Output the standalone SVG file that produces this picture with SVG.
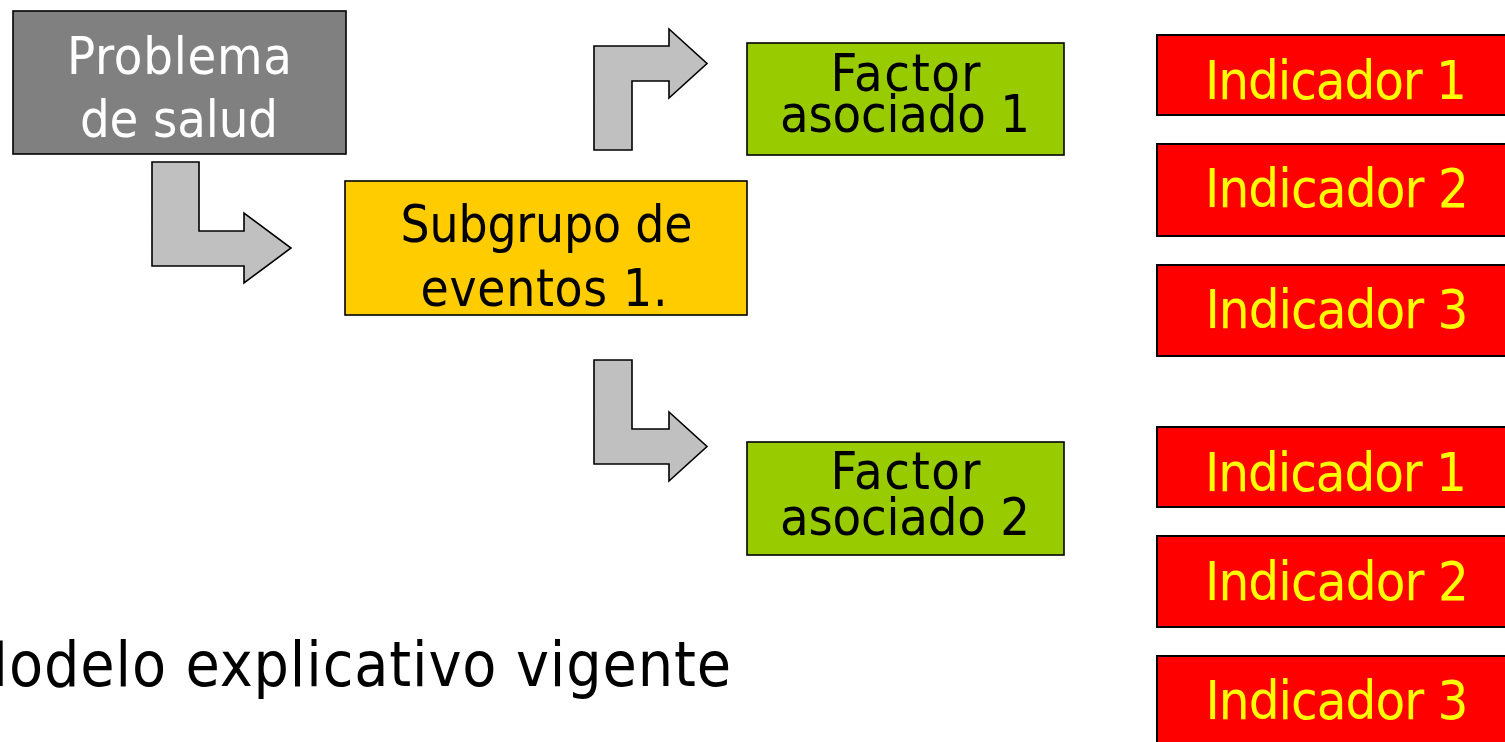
<svg xmlns="http://www.w3.org/2000/svg" width="1505" height="742" viewBox="0 0 1505 742">
<style>
.t{font-family:"DejaVu Sans Condensed","DejaVu Sans",sans-serif;font-stretch:condensed;text-anchor:middle}
.box{stroke:#000;stroke-width:1.6}
.arrow{fill:#C0C0C0;stroke:#000;stroke-width:1.6;stroke-linejoin:miter}
.ind{fill:#FF0000;stroke:#000;stroke-width:2}
.indt{fill:#FFFF00;font-size:54px}
</style>
<rect width="1505" height="742" fill="#FFFFFF"/>
<g id="connectors">
<polygon class="arrow" points="152,162 199,162 199,231 244,231 244,213 291,248 244,283 244,266 152,266"/>
<polygon class="arrow" points="594,150 594,46 669,46 669,29 707,63.5 669,98 669,81 632,81 632,150"/>
<polygon class="arrow" points="594,360 632,360 632,429 669,429 669,412 707,446.5 669,481 669,464 594,464"/>
</g>
<g id="problema">
<rect class="box" x="13" y="11" width="333" height="143" fill="#808080"/>
<text class="t" x="179.5" y="74" font-size="52" fill="#FFFFFF" textLength="225">Problema</text>
<text class="t" x="179" y="137" font-size="52" fill="#FFFFFF" textLength="198">de salud</text>
</g>
<g id="subgrupo">
<rect class="box" x="345" y="181" width="402" height="134" fill="#FFCC00"/>
<text class="t" x="546.5" y="242" font-size="51" fill="#000" textLength="292">Subgrupo de</text>
<text class="t" x="544" y="306" font-size="51" fill="#000" textLength="247">eventos 1.</text>
</g>
<g id="factor1">
<rect class="box" x="747" y="43" width="317" height="112" fill="#99CC00"/>
<text class="t" x="905.5" y="91" font-size="52" fill="#000" textLength="150">Factor</text>
<text class="t" x="905" y="132" font-size="52" fill="#000" textLength="250">asociado 1</text>
</g>
<g id="factor2">
<rect class="box" x="747" y="442" width="317" height="113" fill="#99CC00"/>
<text class="t" x="905.5" y="489" font-size="52" fill="#000" textLength="150">Factor</text>
<text class="t" x="905" y="535" font-size="52" fill="#000" textLength="250">asociado 2</text>
</g>
<g id="ind1a">
<rect class="ind" x="1157" y="35" width="360" height="80"/>
<text class="t indt" x="1336" y="99" textLength="262">Indicador 1</text>
</g>
<g id="ind2a">
<rect class="ind" x="1157" y="144" width="360" height="92"/>
<text class="t indt" x="1337" y="207" textLength="264">Indicador 2</text>
</g>
<g id="ind3a">
<rect class="ind" x="1157" y="265" width="360" height="91"/>
<text class="t indt" x="1337" y="328" textLength="263">Indicador 3</text>
</g>
<g id="ind1b">
<rect class="ind" x="1157" y="427" width="360" height="80"/>
<text class="t indt" x="1336" y="491" textLength="262">Indicador 1</text>
</g>
<g id="ind2b">
<rect class="ind" x="1157" y="536" width="360" height="91"/>
<text class="t indt" x="1337" y="600" textLength="264">Indicador 2</text>
</g>
<g id="ind3b">
<rect class="ind" x="1157" y="656" width="360" height="100"/>
<text class="t indt" x="1337" y="719" textLength="263">Indicador 3</text>
</g>
<g id="titulo">
<text x="-40" y="686" font-family="DejaVu Sans Condensed, DejaVu Sans, sans-serif" font-stretch="condensed" font-size="62" fill="#000" textLength="771">Modelo explicativo vigente</text>
</g>
</svg>
